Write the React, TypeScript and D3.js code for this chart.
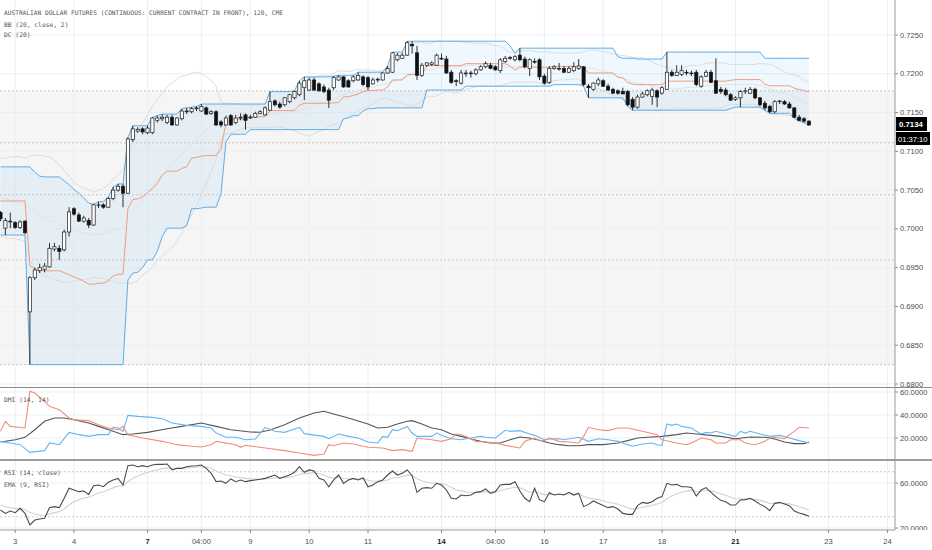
import React, { useEffect } from 'react';
import * as d3 from 'd3';

const titleText = 'AUSTRALIAN DOLLAR FUTURES (CONTINUOUS: CURRENT CONTRACT IN FRONT), 120, CME';
const legendLines = ['BB (20, close, 2)', 'DC (20)'];
const dmiLabel = 'DMI (14, 14)';
const rsiLabels = ['RSI (14, close)', 'EMA (9, RSI)'];

const opens = [
  0.7021, 0.7001, 0.7009, 0.7008, 0.7002, 0.7010, 0.6893, 0.6937, 0.6946, 0.6948,
  0.6951, 0.6974, 0.6975, 0.6973, 0.6996, 0.7026, 0.7018, 0.7010, 0.7011, 0.7005,
  0.7030, 0.7031, 0.7028, 0.7039, 0.7050, 0.7055, 0.7046, 0.7115, 0.7126, 0.7129,
  0.7124, 0.7124, 0.7140, 0.7142, 0.7137, 0.7144, 0.7134, 0.7142, 0.7151, 0.7151,
  0.7155, 0.7152, 0.7156, 0.7149, 0.7151, 0.7138, 0.7134, 0.7146, 0.7137, 0.7143,
  0.7147, 0.7143, 0.7144, 0.7149, 0.7147, 0.7153, 0.7165, 0.7161, 0.7160, 0.7164,
  0.7169, 0.7173, 0.7182, 0.7179, 0.7192, 0.7187, 0.7183, 0.7179, 0.7182, 0.7192,
  0.7196, 0.7191, 0.7191, 0.7192, 0.7196, 0.7195, 0.7187, 0.7192, 0.7192, 0.7201,
  0.7202, 0.7218, 0.7220, 0.7224, 0.7238, 0.7227, 0.7198, 0.7211, 0.7212, 0.7211,
  0.7220, 0.7219, 0.7202, 0.7191, 0.7188, 0.7200, 0.7201, 0.7200, 0.7205, 0.7209,
  0.7211, 0.7209, 0.7204, 0.7216, 0.7220, 0.7218, 0.7224, 0.7219, 0.7207, 0.7216,
  0.7218, 0.7197, 0.7189, 0.7207, 0.7206, 0.7207, 0.7202, 0.7204, 0.7207, 0.7209,
  0.7184, 0.7180, 0.7187, 0.7191, 0.7184, 0.7180, 0.7178, 0.7177, 0.7177, 0.7167,
  0.7157, 0.7170, 0.7173, 0.7171, 0.7178, 0.7175, 0.7180, 0.7202, 0.7198, 0.7199,
  0.7202, 0.7201, 0.7202, 0.7184, 0.7197, 0.7202, 0.7191, 0.7180, 0.7179, 0.7173,
  0.7167, 0.7169, 0.7177, 0.7175, 0.7180, 0.7169, 0.7162, 0.7158, 0.7151, 0.7164,
  0.7164, 0.7161, 0.7156, 0.7144, 0.7142, 0.7139,
];
const highs = [
  0.7023, 0.7014, 0.7021, 0.7010, 0.7011, 0.7011, 0.6939, 0.6950, 0.6955, 0.6956,
  0.6982, 0.6982, 0.6979, 0.6999, 0.7028, 0.7028, 0.7021, 0.7017, 0.7014, 0.7032,
  0.7035, 0.7033, 0.7041, 0.7054, 0.7058, 0.7058, 0.7118, 0.7133, 0.7131, 0.7131,
  0.7133, 0.7144, 0.7146, 0.7148, 0.7147, 0.7147, 0.7144, 0.7155, 0.7156, 0.7157,
  0.7158, 0.7161, 0.7158, 0.7153, 0.7153, 0.7140, 0.7146, 0.7148, 0.7147, 0.7149,
  0.7149, 0.7147, 0.7151, 0.7153, 0.7158, 0.7177, 0.7167, 0.7164, 0.7170, 0.7174,
  0.7178, 0.7191, 0.7196, 0.7195, 0.7195, 0.7189, 0.7186, 0.7182, 0.7197, 0.7198,
  0.7197, 0.7193, 0.7198, 0.7202, 0.7198, 0.7197, 0.7195, 0.7195, 0.7202, 0.7210,
  0.7228, 0.7227, 0.7227, 0.7242, 0.7242, 0.7236, 0.7214, 0.7215, 0.7216, 0.7226,
  0.7226, 0.7223, 0.7205, 0.7193, 0.7205, 0.7205, 0.7204, 0.7207, 0.7211, 0.7216,
  0.7214, 0.7211, 0.7220, 0.7223, 0.7223, 0.7224, 0.7233, 0.7222, 0.7220, 0.7220,
  0.7220, 0.7200, 0.7210, 0.7211, 0.7214, 0.7210, 0.7210, 0.7215, 0.7219, 0.7210,
  0.7187, 0.7189, 0.7195, 0.7193, 0.7187, 0.7182, 0.7180, 0.7182, 0.7179, 0.7170,
  0.7173, 0.7177, 0.7180, 0.7182, 0.7180, 0.7184, 0.7228, 0.7205, 0.7211, 0.7211,
  0.7205, 0.7204, 0.7205, 0.7198, 0.7205, 0.7205, 0.7220, 0.7183, 0.7182, 0.7175,
  0.7171, 0.7179, 0.7182, 0.7183, 0.7182, 0.7170, 0.7165, 0.7160, 0.7166, 0.7166,
  0.7166, 0.7164, 0.7157, 0.7147, 0.7144, 0.7140,
];
const lows = [
  0.7010, 0.6992, 0.7001, 0.7000, 0.7000, 0.6993, 0.6825, 0.6934, 0.6943, 0.6944,
  0.6950, 0.6971, 0.6960, 0.6971, 0.6990, 0.7017, 0.7009, 0.7008, 0.7001, 0.7004,
  0.7027, 0.7026, 0.7027, 0.7037, 0.7048, 0.7028, 0.7045, 0.7112, 0.7124, 0.7122,
  0.7122, 0.7122, 0.7137, 0.7139, 0.7135, 0.7133, 0.7133, 0.7140, 0.7148, 0.7149,
  0.7152, 0.7151, 0.7147, 0.7147, 0.7133, 0.7131, 0.7133, 0.7133, 0.7135, 0.7140,
  0.7128, 0.7142, 0.7143, 0.7148, 0.7146, 0.7152, 0.7158, 0.7155, 0.7158, 0.7162,
  0.7167, 0.7171, 0.7166, 0.7178, 0.7178, 0.7177, 0.7175, 0.7156, 0.7179, 0.7191,
  0.7182, 0.7182, 0.7189, 0.7191, 0.7184, 0.7179, 0.7186, 0.7189, 0.7191, 0.7200,
  0.7201, 0.7216, 0.7219, 0.7223, 0.7226, 0.7192, 0.7196, 0.7209, 0.7210, 0.7210,
  0.7218, 0.7200, 0.7187, 0.7184, 0.7186, 0.7196, 0.7195, 0.7198, 0.7204, 0.7207,
  0.7206, 0.7204, 0.7201, 0.7214, 0.7218, 0.7216, 0.7216, 0.7207, 0.7197, 0.7213,
  0.7192, 0.7186, 0.7187, 0.7205, 0.7204, 0.7201, 0.7201, 0.7202, 0.7205, 0.7184,
  0.7169, 0.7178, 0.7184, 0.7183, 0.7178, 0.7174, 0.7173, 0.7174, 0.7158, 0.7153,
  0.7155, 0.7169, 0.7171, 0.7160, 0.7157, 0.7173, 0.7179, 0.7196, 0.7197, 0.7197,
  0.7198, 0.7197, 0.7184, 0.7182, 0.7196, 0.7188, 0.7174, 0.7174, 0.7171, 0.7165,
  0.7165, 0.7157, 0.7174, 0.7174, 0.7167, 0.7158, 0.7153, 0.7149, 0.7149, 0.7161,
  0.7160, 0.7155, 0.7143, 0.7139, 0.7137, 0.7133,
];
const closes = [
  0.7013, 0.7011, 0.7010, 0.7002, 0.7009, 0.6995, 0.6937, 0.6947, 0.6950, 0.6952,
  0.6975, 0.6977, 0.6971, 0.6996, 0.7022, 0.7019, 0.7010, 0.7014, 0.7005, 0.7031,
  0.7031, 0.7028, 0.7039, 0.7050, 0.7055, 0.7046, 0.7116, 0.7129, 0.7128, 0.7125,
  0.7130, 0.7143, 0.7143, 0.7144, 0.7144, 0.7134, 0.7143, 0.7152, 0.7152, 0.7155,
  0.7156, 0.7158, 0.7148, 0.7151, 0.7134, 0.7134, 0.7143, 0.7134, 0.7143, 0.7144,
  0.7140, 0.7144, 0.7149, 0.7151, 0.7156, 0.7164, 0.7160, 0.7157, 0.7169, 0.7173,
  0.7177, 0.7188, 0.7191, 0.7192, 0.7179, 0.7178, 0.7177, 0.7166, 0.7195, 0.7196,
  0.7183, 0.7183, 0.7196, 0.7198, 0.7186, 0.7183, 0.7192, 0.7193, 0.7201, 0.7207,
  0.7227, 0.7224, 0.7224, 0.7240, 0.7236, 0.7198, 0.7211, 0.7214, 0.7214, 0.7224,
  0.7219, 0.7201, 0.7189, 0.7190, 0.7201, 0.7201, 0.7200, 0.7205, 0.7209, 0.7213,
  0.7207, 0.7205, 0.7218, 0.7220, 0.7221, 0.7222, 0.7218, 0.7209, 0.7218, 0.7215,
  0.7196, 0.7188, 0.7207, 0.7209, 0.7207, 0.7202, 0.7207, 0.7209, 0.7210, 0.7186,
  0.7182, 0.7188, 0.7192, 0.7184, 0.7179, 0.7175, 0.7175, 0.7174, 0.7160, 0.7157,
  0.7170, 0.7174, 0.7178, 0.7179, 0.7170, 0.7182, 0.7202, 0.7198, 0.7202, 0.7204,
  0.7201, 0.7200, 0.7186, 0.7196, 0.7202, 0.7189, 0.7175, 0.7177, 0.7173, 0.7166,
  0.7169, 0.7177, 0.7178, 0.7180, 0.7169, 0.7160, 0.7156, 0.7151, 0.7164, 0.7165,
  0.7161, 0.7156, 0.7144, 0.7140, 0.7139, 0.7134,
];

// indicator values on the first 19 bars (their 20-bar window starts before the visible range)
const bbUpperLead = [0.7091, 0.7091, 0.7093, 0.7093, 0.7093, 0.7091, 0.7094, 0.7095, 0.7095, 0.7094, 0.7093, 0.7089, 0.7082, 0.7076, 0.7068, 0.7060, 0.7055, 0.7053, 0.7050];
const bbBasisLead = [0.7041, 0.7039, 0.7037, 0.7035, 0.7033, 0.7031, 0.7026, 0.7022, 0.7018, 0.7014, 0.7011, 0.7009, 0.7006, 0.7004, 0.7001, 0.6999, 0.6996, 0.6995, 0.6993];
const bbLowerLead = [0.6991, 0.6988, 0.6988, 0.6987, 0.6986, 0.6983, 0.6960, 0.6950, 0.6944, 0.6939, 0.6937, 0.6934, 0.6933, 0.6931, 0.6931, 0.6933, 0.6934, 0.6935, 0.6935];
const dcUpperLead = [0.7080, 0.7080, 0.7080, 0.7080, 0.7080, 0.7080, 0.7080, 0.7073, 0.7068, 0.7067, 0.7067, 0.7067, 0.7067, 0.7062, 0.7057, 0.7051, 0.7046, 0.7040, 0.7033];
const dcLowerLead = [0.6992, 0.6992, 0.6992, 0.6992, 0.6992, 0.6992, 0.6825, 0.6825, 0.6825, 0.6825, 0.6825, 0.6825, 0.6825, 0.6825, 0.6825, 0.6825, 0.6825, 0.6825, 0.6825];

const fibLevels = [0.7178, 0.7111, 0.7044, 0.6960, 0.6825];

const diPlusPts: [number, number][] = [
  [0, 17.1], [2, 15.7], [4, 14.2], [6, 7.5], [9, 9], [10, 15.7], [12, 14.2], [14, 24.9], [16, 22.9], [18, 21.4],
  [20, 22.9], [22, 22.9], [23, 29.3], [24, 28.7], [25, 25.8], [26, 39.7], [28, 38.8], [31, 37.9], [33, 36.8], [35, 33],
  [38, 31], [41, 30.1], [43, 28.7], [44, 24.3], [46, 20.6], [48, 20.6], [50, 18.5], [52, 19.1], [54, 29.3], [56, 25.8],
  [58, 24.9], [61, 29.3], [62, 23.8], [66, 21.4], [67, 19.4], [69, 23.5], [71, 21.4], [73, 20], [75, 16.5], [77, 15.7],
  [78, 21.4], [79, 20.6], [80, 27.2], [81, 26.4], [83, 30.1], [84, 24.3], [85, 21.4], [88, 21.4], [89, 24.3], [90, 22.3],
  [92, 19.4], [94, 18.5], [96, 20], [98, 21.4], [99, 20.6], [101, 20], [103, 26.7], [104, 25.8], [106, 26.4], [108, 23.5],
  [109, 22.3], [111, 18.5], [112, 19.1], [114, 19.4], [115, 18.5], [118, 20.6], [120, 17.1], [122, 19.4], [124, 18.5], [126, 17.1],
  [128, 14.2], [129, 12.8], [131, 14.8], [133, 15.7], [134, 14.2], [135, 13.6], [136, 32.2], [137, 31], [138, 32.2], [139, 30.1],
  [141, 28.7], [142, 25.8], [143, 23.5], [144, 24.9], [145, 24.3], [146, 25.8], [148, 23.5], [150, 21.4], [151, 25.8], [152, 24.3],
  [153, 25.8], [155, 23.5], [157, 21.4], [159, 22.3], [161, 20], [163, 17.7], [165, 15.7],
];
const diMinusPts: [number, number][] = [
  [0, 25.8], [1, 34.5], [2, 30.1], [5, 28.7], [6, 60.6], [7, 59.1], [9, 51.9], [10, 47.5], [12, 44.6], [14, 37.4],
  [15, 35.9], [18, 35.1], [20, 31.6], [22, 28.7], [24, 27.2], [25, 30.1], [26, 22.9], [29, 20], [33, 17.1], [36, 14.2],
  [39, 12.8], [41, 12.2], [43, 14.2], [44, 17.1], [48, 14.2], [49, 11.9], [50, 13.6], [54, 11.3], [58, 9], [61, 7],
  [64, 4.9], [66, 6.1], [67, 14.2], [68, 13.3], [70, 15.7], [72, 14.8], [75, 11.9], [78, 11.3], [80, 9], [82, 9.9],
  [84, 8.4], [85, 20], [86, 19.4], [88, 18.5], [90, 17.1], [92, 19.4], [93, 23.5], [94, 22.9], [95, 21.4], [97, 17.1],
  [99, 16.5], [101, 15.7], [103, 13.6], [106, 11.3], [107, 17.1], [109, 20], [110, 17.7], [111, 17.7], [112, 20], [114, 17.1],
  [116, 16.5], [118, 15.7], [119, 21.4], [120, 29.3], [122, 27.2], [124, 26.4], [126, 28.7], [128, 28.7], [131, 25.8], [134, 22.9],
  [135, 18.5], [138, 15.7], [140, 14.2], [141, 15.7], [143, 20], [145, 18.5], [146, 15.7], [148, 15.7], [149, 18.5], [151, 18.5],
  [152, 15.7], [154, 14.2], [156, 17.1], [157, 20], [158, 20.6], [160, 19.4], [161, 22.9], [162, 25.8], [163, 29.3], [165, 28.7],
];
const adxPts: [number, number][] = [
  [0, 16.5], [3, 18.5], [5, 20.6], [7, 27.2], [9, 34.5], [11, 37.4], [13, 37.4], [15, 35.9], [18, 33], [20, 30.1],
  [23, 25.8], [25, 22.9], [27, 23.5], [30, 24.9], [34, 28.1], [37, 30.1], [41, 33], [44, 30.1], [47, 27.2], [51, 25.2],
  [53, 25], [55, 27], [58, 31.6], [61, 37.4], [64, 41.7], [66, 43.2], [68, 40.9], [71, 37.4], [75, 32.2], [77, 28.7],
  [79, 29.3], [81, 32.2], [83, 34.5], [84, 35.1], [86, 32.2], [88, 28.7], [90, 27.2], [92, 23.5], [94, 21.4], [96, 19.1],
  [98, 17.1], [100, 15.7], [102, 15.7], [104, 18.5], [106, 20.9], [108, 20], [110, 18], [112, 15.7], [114, 14.2], [116, 13.3],
  [118, 13.3], [120, 14.2], [123, 14.2], [126, 15.7], [128, 17.7], [130, 20], [132, 20.6], [135, 21.4], [138, 22.9], [140, 24.3],
  [142, 23.5], [145, 22.3], [147, 21.4], [150, 19.4], [153, 20.9], [156, 20.6], [158, 19.1], [160, 16.5], [162, 15.1], [164, 15.1],
  [165, 16.5],
];

const rsiValues = [
  36, 33, 35.1, 33.6, 37.5, 33, 22.7, 27.1, 28, 28.6,
  38.1, 39, 38.1, 46.4, 55.3, 53.8, 52.3, 52.9, 49.9, 57.6,
  58.2, 56.7, 60.6, 62.7, 64.1, 58.2, 75.4, 76, 74.5, 75.4,
  74.5, 76, 76.6, 76.6, 76.9, 71.6, 73, 73, 74.5, 75.1,
  75.4, 76, 73, 68.6, 61.2, 61.8, 59.7, 63.6, 61.2, 62.7,
  61.2, 62.1, 62.7, 63.3, 64.1, 65.6, 67.1, 64.1, 65.6, 67.1,
  69.5, 74.5, 69.5, 71.6, 70.7, 64.1, 62.7, 56.7, 62.7, 67.1,
  59.7, 62.7, 64.1, 62.7, 64.7, 56.7, 58.2, 61.2, 62.7, 67.1,
  70.7, 67.1, 68.6, 71.6, 66.5, 51.7, 55.3, 55.9, 55.3, 59.7,
  58.2, 53.8, 46.4, 45.8, 49.3, 48.7, 49.3, 51.7, 52.3, 54.7,
  50.8, 52.3, 58.2, 58.8, 58.8, 61.2, 52.9, 46.4, 43.4, 55.3,
  45, 43.4, 51.4, 49.3, 50.2, 49.3, 51.7, 49.3, 51, 39,
  41, 44, 41.9, 39.9, 38.1, 39, 36.9, 33, 32.1, 32.1,
  39.9, 42.8, 41.9, 43.4, 46.4, 47.9, 59.7, 58.2, 58.8, 56.7,
  56.7, 56, 48.4, 53.8, 55.9, 51.7, 47.9, 44.6, 43.4, 40.4,
  40.4, 44.9, 45.2, 46.4, 44, 41, 39, 35.4, 41.9, 42.8,
  41.3, 39.9, 35.1, 33.3, 32.1, 30.4,
];
const rsiEmaSeed = 40.4;

const priceTicks = [0.68, 0.685, 0.69, 0.695, 0.7, 0.705, 0.71, 0.715, 0.72, 0.725];
const dmiTicks = [20, 40, 60];
const rsiTicks = [20, 60];
const rsiBands = [30, 70];

const timeTickBars = [3, 15, 30, 41, 51, 63, 75, 90, 101, 111, 123, 135, 150, 169, 181];
const timeTickLabels = ['3', '4', '7', '04:00', '9', '10', '11', '14', '04:00', '16', '17', '18', '21', '23', '24'];
const boldTimeLabels = ['7', '14', '21'];

const lastPriceLabel = '0.7134';
const countdownLabel = '01:37:10';

const W = 932;
const H = 550;
const AXIS_X = 895;

export default function App() {
  useEffect(() => {
    document.body.style.margin = '0';
  }, []);

  const N = closes.length;
  const xs = d3.scaleLinear().domain([0, N - 1]).range([0.5, 809]);
  const yP = d3.scaleLinear().domain([0.68, 0.725]).range([384, 35]);
  const yD = d3.scaleLinear().domain([20, 40]).range([438, 415]);
  const yR = d3.scaleLinear().domain([20, 60]).range([528, 483]);

  // Bollinger (20, 2) and Donchian (20)
  const bbBasis: number[] = [];
  const bbUpper: number[] = [];
  const bbLower: number[] = [];
  const dcUpper: number[] = [];
  const dcLower: number[] = [];
  for (let i = 0; i < N; i++) {
    if (i < 19) {
      bbBasis.push(bbBasisLead[i]);
      bbUpper.push(bbUpperLead[i]);
      bbLower.push(bbLowerLead[i]);
      dcUpper.push(dcUpperLead[i]);
      dcLower.push(dcLowerLead[i]);
    } else {
      const win = closes.slice(i - 19, i + 1);
      const m = d3.mean(win) as number;
      const sd = Math.sqrt(d3.mean(win.map((v) => (v - m) * (v - m))) as number);
      bbBasis.push(m);
      bbUpper.push(m + 2 * sd);
      bbLower.push(m - 2 * sd);
      dcUpper.push(d3.max(highs.slice(i - 19, i + 1)) as number);
      dcLower.push(d3.min(lows.slice(i - 19, i + 1)) as number);
    }
  }
  const dcBasis = dcUpper.map((u, i) => (u + dcLower[i]) / 2);

  const rsiEma: number[] = [];
  rsiValues.forEach((v, i) => {
    if (i === 0) rsiEma.push(rsiEmaSeed);
    else rsiEma.push(rsiEma[i - 1] + 0.2 * (v - rsiEma[i - 1]));
  });

  const priceLine = d3.line<number>().x((_, i) => xs(i)).y((v) => yP(v));
  const areaBetween = (top: number[], bottom: number[]) =>
    d3.area<number>().x((_, i) => xs(i)).y0((_, i) => yP(bottom[i])).y1((v) => yP(v))(top) as string;
  const dmiLine = d3.line<[number, number]>().x((d) => xs(d[0])).y((d) => yD(d[1]));
  const rsiLine = d3.line<number>().x((_, i) => xs(i)).y((v) => yR(v));

  const gridColor = '#ebeff4';
  const axisText = '#4c4c4c';
  const mono = 'DejaVu Sans Mono, monospace';
  const bodyW = 3.2;

  return (
    <div style={{ position: 'absolute', left: 0, top: 0 }}>
      <svg width={W} height={H} style={{ display: 'block' }} fontFamily="Liberation Sans, Arial, sans-serif">
        <defs>
          <clipPath id="clipPrice"><rect x={0} y={0} width={AXIS_X} height={387} /></clipPath>
          <clipPath id="clipDmi"><rect x={0} y={388} width={AXIS_X} height={71} /></clipPath>
          <clipPath id="clipRsi"><rect x={0} y={461} width={AXIS_X} height={69} /></clipPath>
        </defs>
        <rect x={0} y={0} width={W} height={H} fill="#ffffff" />

        {/* ---------- price pane ---------- */}
        <g clipPath="url(#clipPrice)">
          <rect x={0} y={yP(fibLevels[0])} width={AXIS_X} height={yP(fibLevels[fibLevels.length - 1]) - yP(fibLevels[0])} fill="#f5f5f5" />
          {timeTickBars.map((b, k) => (
            <line key={'vg' + k} x1={xs(b)} x2={xs(b)} y1={0} y2={387} stroke={gridColor} strokeWidth={1} />
          ))}
          {priceTicks.map((p, k) => (
            <line key={'hg' + k} x1={0} x2={AXIS_X} y1={yP(p)} y2={yP(p)} stroke={gridColor} strokeWidth={1} />
          ))}
          <path d={areaBetween(dcUpper, dcLower)} fill="#2196f3" fillOpacity={0.07} />
          {fibLevels.map((p, k) => (
            <line key={'fib' + k} x1={0} x2={AXIS_X} y1={yP(p)} y2={yP(p)} stroke="#c4c4c4" strokeWidth={1} strokeDasharray="2,2" />
          ))}
          <path d={priceLine(bbUpper) as string} fill="none" stroke="#dddddd" strokeWidth={1} />
          <path d={priceLine(bbLower) as string} fill="none" stroke="#dddddd" strokeWidth={1} />
          <path d={priceLine(bbBasis) as string} fill="none" stroke="#e3e3e3" strokeWidth={1} />
          <path d={priceLine(dcBasis) as string} fill="none" stroke="#f39a7b" strokeWidth={1} />
          <path d={priceLine(dcUpper) as string} fill="none" stroke="#5dade8" strokeWidth={1} />
          <path d={priceLine(dcLower) as string} fill="none" stroke="#5dade8" strokeWidth={1} />
          {closes.map((c, i) => {
            const o = opens[i];
            const up = c >= o;
            const x = xs(i);
            const top = yP(Math.max(o, c));
            const bot = yP(Math.min(o, c));
            const hi = yP(Math.max(highs[i], o, c));
            const lo = yP(Math.min(lows[i], o, c));
            return (
              <g key={'c' + i}>
                <line x1={x} x2={x} y1={hi} y2={lo} stroke="#1a1a1a" strokeWidth={0.9} />
                <rect x={x - bodyW / 2} y={top} width={bodyW} height={Math.max(bot - top, 0.8)} fill={up ? '#ffffff' : '#111111'} stroke="#1a1a1a" strokeWidth={0.7} />
              </g>
            );
          })}
        </g>
        <text x={4} y={15} fontFamily={mono} fontSize={6.3} fill="#555" textLength={279} lengthAdjust="spacingAndGlyphs">{titleText}</text>
        {legendLines.map((t, k) => (
          <text key={'lg' + k} x={4} y={26.5 + k * 10.5} fontFamily={mono} fontSize={6.3} fill="#555">{t}</text>
        ))}

        {/* ---------- DMI pane ---------- */}
        <g clipPath="url(#clipDmi)">
          {timeTickBars.map((b, k) => (
            <line key={'dvg' + k} x1={xs(b)} x2={xs(b)} y1={388} y2={460} stroke={gridColor} strokeWidth={1} />
          ))}
          {dmiTicks.map((v, k) => (
            <line key={'dhg' + k} x1={0} x2={AXIS_X} y1={yD(v)} y2={yD(v)} stroke={gridColor} strokeWidth={1} />
          ))}
          <path d={dmiLine(adxPts) as string} fill="none" stroke="#555555" strokeWidth={1.1} />
          <path d={dmiLine(diPlusPts) as string} fill="none" stroke="#64b5f6" strokeWidth={1.1} />
          <path d={dmiLine(diMinusPts) as string} fill="none" stroke="#ef8f78" strokeWidth={1.1} />
        </g>
        <text x={4} y={402} fontFamily={mono} fontSize={6.3} fill="#555">{dmiLabel}</text>

        {/* ---------- RSI pane ---------- */}
        <g clipPath="url(#clipRsi)">
          {timeTickBars.map((b, k) => (
            <line key={'rvg' + k} x1={xs(b)} x2={xs(b)} y1={461} y2={530} stroke={gridColor} strokeWidth={1} />
          ))}
          {rsiTicks.map((v, k) => (
            <line key={'rhg' + k} x1={0} x2={AXIS_X} y1={yR(v)} y2={yR(v)} stroke={gridColor} strokeWidth={1} />
          ))}
          {rsiBands.map((v, k) => (
            <line key={'rb' + k} x1={0} x2={AXIS_X} y1={yR(v)} y2={yR(v)} stroke="#cccccc" strokeWidth={1} strokeDasharray="2,2" />
          ))}
          <path d={rsiLine(rsiEma) as string} fill="none" stroke="#d2d2d2" strokeWidth={1.1} />
          <path d={rsiLine(rsiValues) as string} fill="none" stroke="#4a4a4a" strokeWidth={1.1} />
        </g>
        {rsiLabels.map((t, k) => (
          <text key={'rl' + k} x={4} y={475 + k * 11.5} fontFamily={mono} fontSize={6.3} fill="#555">{t}</text>
        ))}

        {/* ---------- right axis ---------- */}
        {priceTicks.map((p, k) => (
          <g key={'pt' + k}>
            <line x1={AXIS_X} x2={AXIS_X + 3} y1={yP(p)} y2={yP(p)} stroke="#888" strokeWidth={1} />
            <text x={900} y={yP(p) + 2.6} fontSize={7.6} fill={axisText}>{p.toFixed(4)}</text>
          </g>
        ))}
        {dmiTicks.map((v, k) => (
          <g key={'dt' + k}>
            <line x1={AXIS_X} x2={AXIS_X + 3} y1={yD(v)} y2={yD(v)} stroke="#888" strokeWidth={1} />
            <text x={900} y={yD(v) + 2.6} fontSize={7.6} fill={axisText}>{v.toFixed(4)}</text>
          </g>
        ))}
        {rsiTicks.map((v, k) => (
          <g key={'rt' + k}>
            <line x1={AXIS_X} x2={AXIS_X + 3} y1={yR(v)} y2={yR(v)} stroke="#888" strokeWidth={1} />
            <text x={900} y={yR(v) + 3.2} fontSize={7.6} fill={axisText}>{v.toFixed(4)}</text>
          </g>
        ))}

        {/* price / countdown labels */}
        <rect x={896} y={117} width={31} height={14} fill="#000" />
        <text x={899} y={127} fontSize={7.8} fontWeight="bold" fill="#fff">{lastPriceLabel}</text>
        <rect x={896} y={132} width={34} height={13} fill="#000" />
        <text x={898} y={141.5} fontSize={7.6} fill="#fff">{countdownLabel}</text>

        {/* separators */}
        <rect x={0} y={530} width={W} height={20} fill="#fff" />
        <line x1={0} x2={W} y1={387.5} y2={387.5} stroke="#8a8a8a" strokeWidth={1} />
        <line x1={0} x2={W} y1={460} y2={460} stroke="#9d9d9d" strokeWidth={2} />
        <line x1={0} x2={AXIS_X} y1={530} y2={530} stroke="#9a9a9a" strokeWidth={1} />
        <line x1={AXIS_X} x2={AXIS_X} y1={0} y2={530} stroke="#9a9a9a" strokeWidth={1} />

        {/* time axis */}
        {timeTickBars.map((b, k) => {
          const lbl = timeTickLabels[k];
          const bold = boldTimeLabels.includes(lbl);
          return (
            <g key={'tt' + k}>
              <line x1={xs(b)} x2={xs(b)} y1={530} y2={533} stroke="#888" strokeWidth={1} />
              <text x={xs(b)} y={543.5} textAnchor="middle" fontSize={7.6} fontWeight={bold ? 'bold' : 'normal'} fill={bold ? '#222' : axisText}>{lbl}</text>
            </g>
          );
        })}
      </svg>
    </div>
  );
}
